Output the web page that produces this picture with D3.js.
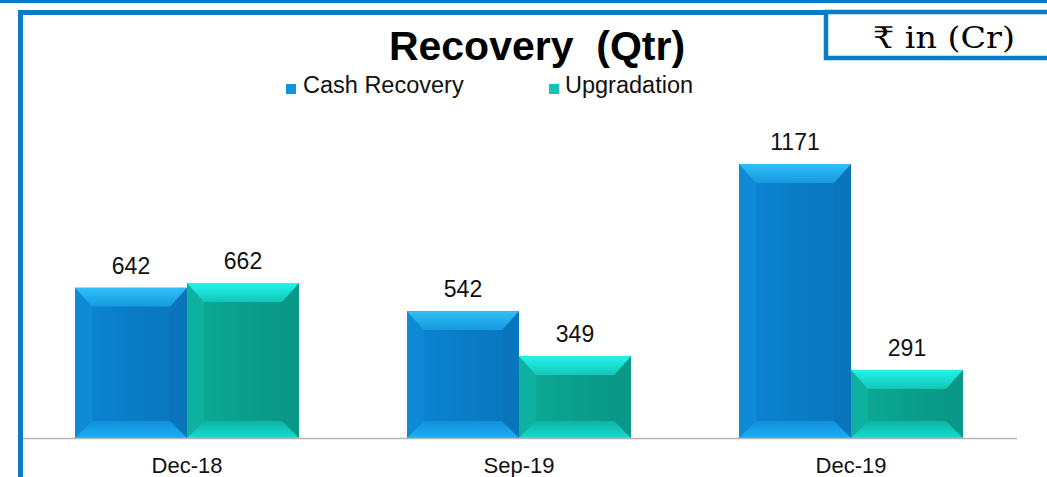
<!DOCTYPE html>
<html>
<head>
<meta charset="utf-8">
<script src="https://cdn.jsdelivr.net/npm/d3@7/dist/d3.min.js"></script>
<style>
  html, body { margin: 0; padding: 0; background: #ffffff; }
  svg { display: block; }
  text { white-space: pre; }
</style>
</head>
<body>
<svg id="chart" width="1047" height="477"></svg>
<script>
// ---- data ----
const categories = ["Dec-18", "Sep-19", "Dec-19"];
const seriesNames = ["Cash Recovery", "Upgradation"];
const cashRecovery = [642, 542, 1171];
const upgradation = [662, 349, 291];
const titleText = "Recovery  (Qtr)";
const unitText = "\u20B9 in (Cr)";

const W = 1047, H = 477;
const svg = d3.select("#chart");

const palettes = {
  "Cash Recovery": { center: "#0a7cc6", topA: "#30c0f8", topB: "#1698e0", left: "#0f8bd6", right: "#0a74bd", botA: "#0f90dc", botB: "#1eaef2", legend: "#1590da" },
  "Upgradation":  { center: "#0a9f8c", topA: "#22f4ec", topB: "#12c6b6", left: "#0fb2a0", right: "#0a9888", botA: "#0db4a4", botB: "#17dccf", legend: "#12c4b4" }
};

// gradients
const defs = svg.append("defs");
seriesNames.forEach((s, i) => {
  const p = palettes[s];
  const gt = defs.append("linearGradient").attr("id", "gt" + i).attr("x1", 0).attr("y1", 0).attr("x2", 0).attr("y2", 1);
  gt.append("stop").attr("offset", "0%").attr("stop-color", p.topA);
  gt.append("stop").attr("offset", "100%").attr("stop-color", p.topB);
  const gb = defs.append("linearGradient").attr("id", "gb" + i).attr("x1", 0).attr("y1", 0).attr("x2", 0).attr("y2", 1);
  gb.append("stop").attr("offset", "0%").attr("stop-color", p.botA);
  gb.append("stop").attr("offset", "100%").attr("stop-color", p.botB);
  const gm = defs.append("linearGradient").attr("id", "gm" + i).attr("x1", 0).attr("y1", 0).attr("x2", 1).attr("y2", 0);
  gm.append("stop").attr("offset", "0%").attr("stop-color", d3.color(p.center).brighter(0.15));
  gm.append("stop").attr("offset", "50%").attr("stop-color", p.center);
  gm.append("stop").attr("offset", "100%").attr("stop-color", d3.color(p.center).darker(0.1));
});

// ---- frame ----
const frameBlue = "#0b7cc4";
svg.append("rect").attr("x", 0).attr("y", 0).attr("width", W).attr("height", 3).attr("fill", frameBlue);
svg.append("rect").attr("x", 18).attr("y", 10).attr("width", W - 18).attr("height", 5).attr("fill", frameBlue);
svg.append("rect").attr("x", 18).attr("y", 10).attr("width", 5).attr("height", H - 10).attr("fill", frameBlue);

// ---- scales ----
const x0 = d3.scaleBand().domain(categories).range([21, 1017]).paddingInner(0.3253).paddingOuter(0.16265);
const x1 = d3.scaleBand().domain(seriesNames).range([0, x0.bandwidth()]);
const y = d3.scaleLinear().domain([0, 1400]).range([438, 110.4]);

const rows = categories.map((c, i) => ({ cat: c, values: [cashRecovery[i], upgradation[i]] }));

// ---- bars with bevel ----
const insetX = 17, insetTop = 19, insetBot = 17;
const groups = svg.append("g").selectAll("g").data(rows).join("g")
  .attr("transform", d => `translate(${x0(d.cat)},0)`);

groups.each(function(d) {
  const g = d3.select(this);
  d.values.forEach((v, si) => {
    const s = seriesNames[si];
    const p = palettes[s];
    const bx = x1(s), bw = x1.bandwidth();
    const top = y(v), bot = y(0);
    const L = bx, R = bx + bw;
    const iL = L + insetX, iR = R - insetX, iT = top + insetTop, iB = bot - insetBot;
    const poly = pts => pts.map(q => q.join(",")).join(" ");
    const bar = g.append("g");
    bar.append("rect").attr("x", L).attr("y", top).attr("width", bw).attr("height", bot - top).attr("fill", `url(#gm${si})`);
    bar.append("polygon").attr("points", poly([[L, top], [iL, iT], [iL, iB], [L, bot]])).attr("fill", p.left);
    bar.append("polygon").attr("points", poly([[R, top], [iR, iT], [iR, iB], [R, bot]])).attr("fill", p.right);
    bar.append("polygon").attr("points", poly([[L, top], [R, top], [iR, iT], [iL, iT]])).attr("fill", `url(#gt${si})`);
    bar.append("polygon").attr("points", poly([[L, bot], [R, bot], [iR, iB], [iL, iB]])).attr("fill", `url(#gb${si})`);
    bar.append("rect").attr("x", iL).attr("y", iT).attr("width", iR - iL).attr("height", Math.max(0, iB - iT)).attr("fill", `url(#gm${si})`);
    // value label
    g.append("text")
      .attr("x", bx + bw / 2).attr("y", top - 14)
      .attr("text-anchor", "middle")
      .attr("font-family", "'Liberation Sans', Arial, sans-serif")
      .attr("font-size", 23).attr("fill", "#111")
      .text(v);
  });
});

// ---- baseline ----
svg.append("line").attr("x1", 23).attr("x2", 1017).attr("y1", y(0) + 0.5).attr("y2", y(0) + 0.5)
  .attr("stroke", "#b5b5b5").attr("stroke-width", 1.5);

// ---- category labels ----
svg.append("g").selectAll("text").data(categories).join("text")
  .attr("x", d => x0(d) + x0.bandwidth() / 2).attr("y", 473)
  .attr("text-anchor", "middle")
  .attr("font-family", "'Liberation Sans', Arial, sans-serif")
  .attr("font-size", 22).attr("fill", "#111")
  .text(d => d);

// ---- title ----
svg.append("text").attr("x", 537).attr("y", 60).attr("text-anchor", "middle")
  .attr("font-family", "'Liberation Sans', Arial, sans-serif")
  .attr("font-weight", "bold").attr("font-size", 41).attr("fill", "#000")
  .attr("xml:space", "preserve")
  .text(titleText);

// ---- legend ----
const legendX = [286, 549];
const leg = svg.append("g").selectAll("g").data(seriesNames).join("g")
  .attr("transform", (d, i) => `translate(${legendX[i]},0)`);
leg.append("rect").attr("x", 0).attr("y", 84).attr("width", 10).attr("height", 10)
  .attr("fill", d => palettes[d].legend);
leg.append("text").attr("x", (d, i) => i === 0 ? 17 : 16).attr("y", 93)
  .attr("font-family", "'Liberation Sans', Arial, sans-serif")
  .attr("font-size", 23.5).attr("fill", "#111")
  .text(d => d);

// ---- unit box ----
svg.append("rect").attr("x", 826).attr("y", 12).attr("width", 240).attr("height", 46)
  .attr("fill", "#fff").attr("stroke", frameBlue).attr("stroke-width", 4.5);
svg.append("text").attr("x", 944).attr("y", 48).attr("text-anchor", "middle")
  .attr("font-family", "'DejaVu Serif', 'Liberation Serif', serif")
  .attr("font-size", 30).attr("fill", "#000")
  .attr("textLength", 142).attr("lengthAdjust", "spacingAndGlyphs")
  .text(unitText);
</script>
</body>
</html>
